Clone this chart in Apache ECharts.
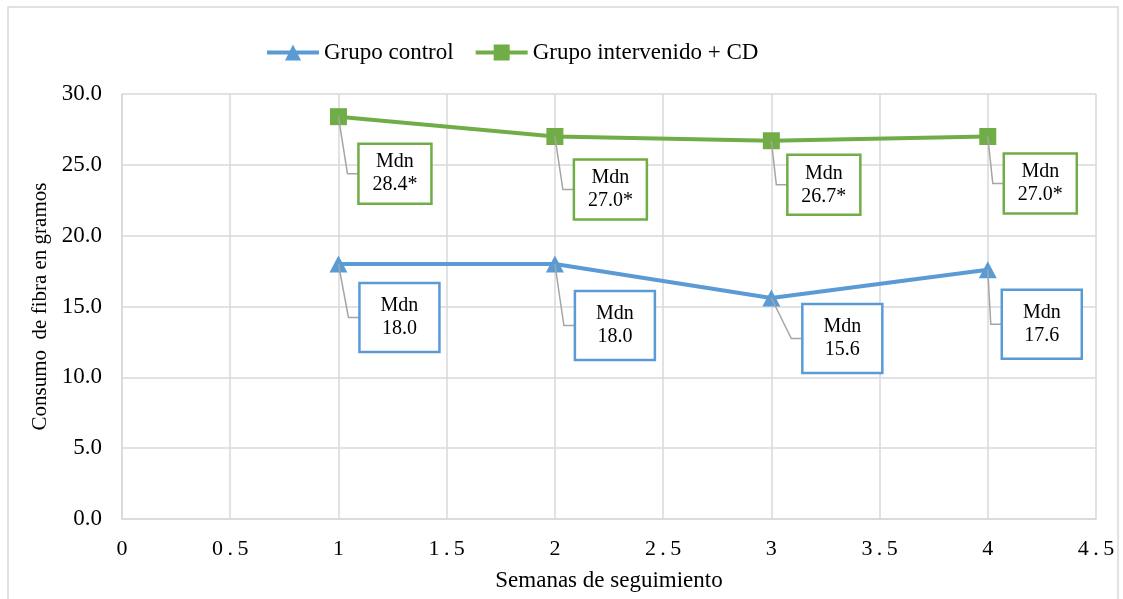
<!DOCTYPE html>
<html>
<head>
<meta charset="utf-8">
<script src="https://cdn.jsdelivr.net/npm/echarts@6/dist/echarts.min.js"></script>
<style>
  html, body { margin: 0; padding: 0; background: #fff; }
  #chart { width: 1123px; height: 599px; }
</style>
</head>
<body>
<div id="chart"></div>
<script>
// Weekly follow-up: median fibre intake (g) per group
const weeks = [1, 2, 3, 4];
const controlMdn = [18.0, 18.0, 15.6, 17.6];
const interventionMdn = [28.4, 27.0, 26.7, 27.0];
const interventionMark = ['*', '*', '*', '*'];
const seriesNames = ['Grupo control', 'Grupo intervenido + CD'];
const xTickLabels = ['0', '0.5', '1', '1.5', '2', '2.5', '3', '3.5', '4', '4.5'];

// Callout placement (pixel offset of each box from its point) and box sizes
const controlCallouts = [[21, 19], [20, 27], [31, 6], [14, 20]];
const interventionCallouts = [[20, 27], [19, 23], [16, 14], [16, 17]];
const controlBox = [80, 69];
const interventionBox = [73, 60];

const FONT = '"Liberation Serif", "Times New Roman", serif';
const BLUE = '#5B9BD5';
const GREEN = '#70AD47';
const GRID = '#d9d9d9';

function spaced(s) {
  // the axis draws its tick numbers with wide letter spacing
  return s.split('').join('\u2009');
}

function calloutSeries(values, offsets, box, color, marks) {
  return {
    type: 'custom',
    coordinateSystem: 'cartesian2d',
    silent: true,
    clip: false,
    z: 5,
    data: weeks.map((w, i) => [w, values[i]]),
    renderItem: function (params, api) {
      const i = params.dataIndex;
      const p = api.coord([api.value(0), api.value(1)]);
      const left = p[0] + offsets[i][0];
      const top = p[1] + offsets[i][1];
      const midY = top + box[1] / 2;
      const elbowX = left - 11;
      const label = 'Mdn\n' + values[i].toFixed(1) + (marks ? marks[i] : '');
      return {
        type: 'group',
        children: [
          {
            type: 'polyline',
            shape: { points: [[p[0], p[1]], [elbowX, midY], [left, midY]] },
            style: { stroke: '#a5a5a5', lineWidth: 1.5, fill: null }
          },
          {
            type: 'rect',
            shape: { x: left, y: top, width: box[0], height: box[1] },
            style: { fill: '#fff', stroke: color, lineWidth: 2.5 }
          },
          {
            type: 'text',
            style: {
              x: left + box[0] / 2,
              y: midY,
              text: label,
              align: 'center',
              verticalAlign: 'middle',
              fill: '#000',
              font: '20px ' + FONT,
              lineHeight: 23
            }
          }
        ]
      };
    }
  };
}

const chart = echarts.init(document.getElementById('chart'), null, { renderer: 'canvas' });

chart.setOption({
  backgroundColor: '#fff',
  animation: false,
  textStyle: { fontFamily: FONT, color: '#000' },
  graphic: [{
    type: 'rect',
    shape: { x: 8, y: 7, width: 1110, height: 640 },
    style: { fill: null, stroke: GRID, lineWidth: 1.5 },
    silent: true,
    z: -10
  }],
  legend: {
    data: seriesNames,
    left: 260,
    top: 36,
    itemWidth: 52,
    itemHeight: 20,
    itemGap: 20,
    lineStyle: { width: 4 },
    textStyle: { fontFamily: FONT, fontSize: 23, color: '#000' }
  },
  grid: { left: 122, right: 27, top: 94, bottom: 80, containLabel: false },
  xAxis: {
    type: 'value',
    min: 0,
    max: 4.5,
    interval: 0.5,
    name: 'Semanas de seguimiento',
    nameLocation: 'middle',
    nameGap: 50,
    nameTextStyle: { fontFamily: FONT, fontSize: 23, color: '#000' },
    axisLine: { show: true, lineStyle: { color: GRID, width: 1.5 } },
    axisTick: { show: false },
    splitLine: { show: true, lineStyle: { color: GRID, width: 1.5 } },
    axisLabel: {
      margin: 19,
      fontFamily: FONT,
      fontSize: 22,
      color: '#000',
      formatter: function (v) {
        const idx = Math.round(v / 0.5);
        return spaced(xTickLabels[idx] || '');
      }
    }
  },
  yAxis: {
    type: 'value',
    min: 0,
    max: 30,
    interval: 5,
    name: 'Consumo  de fibra en gramos',
    nameLocation: 'middle',
    nameGap: 71,
    nameTextStyle: { fontFamily: FONT, fontSize: 21, color: '#000' },
    axisLine: { show: true, lineStyle: { color: GRID, width: 1.5 } },
    axisTick: { show: false },
    splitLine: { show: true, lineStyle: { color: GRID, width: 1.5 } },
    axisLabel: {
      margin: 20,
      fontFamily: FONT,
      fontSize: 23,
      color: '#000',
      formatter: function (v) { return v.toFixed(1); }
    }
  },
  series: [
    {
      name: seriesNames[0],
      type: 'line',
      data: weeks.map((w, i) => [w, controlMdn[i]]),
      symbol: 'triangle',
      symbolSize: [18, 17],
      showAllSymbol: true,
      color: BLUE,
      lineStyle: { color: BLUE, width: 4 },
      itemStyle: { color: BLUE },
      z: 3
    },
    {
      name: seriesNames[1],
      type: 'line',
      data: weeks.map((w, i) => [w, interventionMdn[i]]),
      symbol: 'rect',
      symbolSize: 17,
      showAllSymbol: true,
      color: GREEN,
      lineStyle: { color: GREEN, width: 4 },
      itemStyle: { color: GREEN },
      z: 3
    },
    calloutSeries(controlMdn, controlCallouts, controlBox, BLUE, null),
    calloutSeries(interventionMdn, interventionCallouts, interventionBox, GREEN, interventionMark)
  ]
});
</script>
</body>
</html>
